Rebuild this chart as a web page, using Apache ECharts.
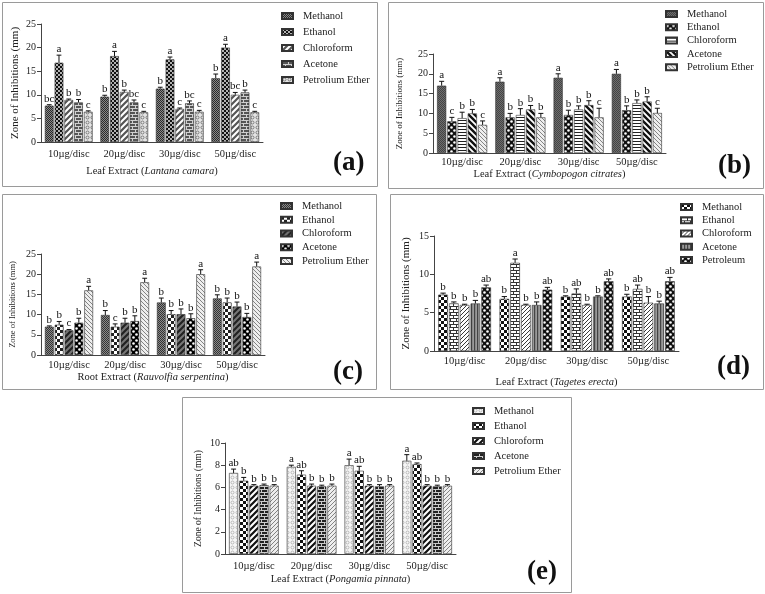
<!DOCTYPE html>
<html><head><meta charset="utf-8">
<script src="https://cdn.jsdelivr.net/npm/echarts@6/dist/echarts.min.js"></script>
<style>html,body{margin:0;padding:0;background:#fff}#c{width:765px;height:594px}</style>
</head><body><div id="c"></div>
<script>
// ---------- DATA ----------
const categories = ['10µg/disc', '20µg/disc', '30µg/disc', '50µg/disc'];
const solvents = ['Methanol', 'Ethanol', 'Chloroform', 'Acetone', 'Petrolium Ether'];
const solventsD = ['Methanol', 'Ethanol', 'Chloroform', 'Acetone', 'Petroleum'];
const yTitle = 'Zone of Inhibitions (mm)';
const xTitles = [
  ['Leaf Extract (', 'Lantana camara', ')'],
  ['Leaf Extract (', 'Cymbopogon citrates', ')'],
  ['Root Extract (', 'Rauvolfia serpentina', ')'],
  ['Leaf Extract (', 'Tagetes erecta', ')'],
  ['Leaf Extract (', 'Pongamia pinnata', ')']
];
const panelLabels = ['(a)', '(b)', '(c)', '(d)', '(e)'];

// rows: Methanol, Ethanol, Chloroform, Acetone, Petroleum ether ; columns: 10,20,30,50 µg/disc
const valuesA = [[7.7, 9.6, 11.3, 13.5], [16.8, 18.2, 17.5, 20.0], [8.9, 10.6, 7.0, 10.0], [8.4, 8.4, 8.2, 10.5], [6.4, 6.3, 6.4, 6.3]];
const errorsA = [[0.2, 0.3, 0.3, 0.9], [1.6, 1.0, 0.5, 0.7], [0.2, 0.4, 0.2, 0.5], [0.6, 0.5, 0.5, 0.5], [0.2, 0.2, 0.3, 0.2]];
const lettersA = [['bc', 'b', 'b', 'b'], ['a', 'a', 'a', 'a'], ['b', 'b', 'c', 'bc'], ['b', 'bc', 'bc', 'b'], ['c', 'c', 'c', 'c']];

const valuesB = [[17.0, 18.0, 19.0, 20.0], [8.0, 9.0, 9.6, 10.8], [8.8, 9.6, 11.0, 12.6], [10.0, 11.0, 12.1, 13.0], [7.1, 9.0, 9.0, 10.1]];
const errorsB = [[1.1, 1.0, 1.0, 1.1], [1.0, 1.0, 1.2, 1.1], [1.5, 1.6, 0.9, 0.8], [1.0, 1.0, 1.1, 1.2], [1.0, 1.0, 2.3, 1.2]];
const lettersB = [['a', 'a', 'a', 'a'], ['c', 'b', 'b', 'b'], ['b', 'b', 'b', 'b'], ['b', 'b', 'b', 'b'], ['c', 'b', 'c', 'c']];

const valuesC = [[7.0, 9.9, 13.0, 14.0], [7.5, 7.0, 10.1, 13.0], [6.1, 8.0, 10.1, 12.0], [8.0, 8.4, 9.1, 9.4], [16.0, 18.0, 20.0, 21.9]];
const errorsC = [[0.2, 1.1, 1.1, 0.9], [0.8, 0.7, 0.9, 1.1], [0.2, 1.1, 1.3, 1.1], [1.1, 1.3, 1.1, 0.9], [1.0, 1.0, 1.1, 1.1]];
const lettersC = [['b', 'b', 'b', 'b'], ['b', 'c', 'b', 'b'], ['c', 'b', 'b', 'b'], ['b', 'b', 'b', 'b'], ['a', 'a', 'a', 'a']];

const valuesD = [[7.35, 6.8, 7.1, 7.1], [6.2, 11.5, 7.5, 8.1], [6.0, 6.0, 6.0, 6.3], [6.2, 6.0, 7.1, 6.2], [8.3, 8.0, 9.1, 9.1]];
const errorsD = [[0.2, 0.3, 0.1, 0.3], [0.2, 0.5, 0.6, 0.5], [0.1, 0.1, 0.1, 0.8], [0.4, 0.4, 0.1, 0.3], [0.3, 0.3, 0.3, 0.5]];
const lettersD = [['b', 'b', 'b', 'b'], ['b', 'a', 'ab', 'ab'], ['b', 'b', 'b', 'b'], ['b', 'b', 'b', 'b'], ['ab', 'ab', 'ab', 'ab']];

const valuesE = [[7.3, 7.85, 8.0, 8.4], [6.6, 7.15, 7.5, 8.1], [6.15, 6.15, 6.15, 6.15], [6.2, 6.1, 6.1, 6.1], [6.15, 6.15, 6.15, 6.15]];
const errorsE = [[0.35, 0.15, 0.55, 0.55], [0.3, 0.35, 0.4, 0.1], [0.1, 0.15, 0.1, 0.1], [0.1, 0.1, 0.15, 0.1], [0.1, 0.15, 0.1, 0.1]];
const lettersE = [['ab', 'a', 'a', 'a'], ['b', 'ab', 'ab', 'ab'], ['b', 'b', 'b', 'b'], ['b', 'b', 'b', 'b'], ['b', 'b', 'b', 'b']];

const yMaxes = [25, 25, 25, 15, 10];
const yIntervals = [5, 5, 5, 5, 2];

// ---------- STYLE / LAYOUT ----------
const FONT = 'Liberation Serif';
function pattern(type, fg, bg) {
  const sizes = {fine: 2, checker: 6, dots: 4, bigdots: 6, diagUp: 6, diagDown: 6, diagUpThin: 4, diagDownThin: 4, hlines: 3, vlines: 3, brick: 6, rings: 5, solid: 2};
  const s = sizes[type];
  const cv = document.createElement('canvas'); cv.width = cv.height = s;
  const g = cv.getContext('2d');
  g.fillStyle = bg; g.fillRect(0, 0, s, s);
  g.fillStyle = fg; g.strokeStyle = fg;
  if (type === 'fine') { g.fillRect(0, 0, 1, 1); g.fillRect(1, 1, 1, 1); }
  else if (type === 'checker') { g.fillRect(0, 0, 3, 3); g.fillRect(3, 3, 3, 3); }
  else if (type === 'dots') { g.beginPath(); g.arc(1, 1, 0.9, 0, 7); g.fill(); g.beginPath(); g.arc(3, 3, 0.9, 0, 7); g.fill(); }
  else if (type === 'bigdots') { g.beginPath(); g.arc(1.5, 1.5, 1.3, 0, 7); g.fill(); g.beginPath(); g.arc(4.5, 4.5, 1.3, 0, 7); g.fill(); }
  else if (type === 'diagUp' || type === 'diagUpThin') {
    g.lineWidth = type === 'diagUp' ? 2.2 : 0.9; g.beginPath();
    g.moveTo(0, s); g.lineTo(s, 0); g.moveTo(-1, 1); g.lineTo(1, -1); g.moveTo(s - 1, s + 1); g.lineTo(s + 1, s - 1); g.stroke();
  }
  else if (type === 'diagDown' || type === 'diagDownThin') {
    g.lineWidth = type === 'diagDown' ? 2.4 : 0.9; g.beginPath();
    g.moveTo(0, 0); g.lineTo(s, s); g.moveTo(s - 1, -1); g.lineTo(s + 1, 1); g.moveTo(-1, s - 1); g.lineTo(1, s + 1); g.stroke();
  }
  else if (type === 'hlines') { g.fillRect(0, 0, s, 1); }
  else if (type === 'vlines') { g.fillRect(0, 0, 1.2, s); }
  else if (type === 'brick') { g.fillRect(0, 0, 6, 1); g.fillRect(0, 3, 6, 1); g.fillRect(0, 0, 1, 3); g.fillRect(3, 3, 1, 3); }
  else if (type === 'rings') { g.lineWidth = 0.8; g.beginPath(); g.arc(2.5, 2.5, 1.5, 0, 7); g.stroke(); }
  return {image: cv, repeat: 'repeat'};
}

const panelPatterns = [
  [['fine', '#2a2a2a', '#8a8a8a'], ['dots', '#ffffff', '#111111'], ['diagUp', '#555555', '#ffffff'], ['brick', '#d0d0d0', '#555555'], ['rings', '#666666', '#e4e4e4']],
  [['fine', '#444444', '#6e6e6e'], ['bigdots', '#ffffff', '#111111'], ['hlines', '#222222', '#ffffff'], ['diagDown', '#111111', '#ffffff'], ['diagDownThin', '#777777', '#eeeeee']],
  [['fine', '#333333', '#8a8a8a'], ['checker', '#222222', '#ffffff'], ['diagUp', '#222222', '#777777'], ['bigdots', '#ffffff', '#000000'], ['diagDownThin', '#777777', '#eeeeee']],
  [['checker', '#111111', '#ffffff'], ['brick', '#333333', '#ffffff'], ['diagUpThin', '#222222', '#ffffff'], ['vlines', '#444444', '#9a9a9a'], ['bigdots', '#ffffff', '#111111']],
  [['rings', '#aaaaaa', '#f6f6f6'], ['checker', '#111111', '#ffffff'], ['diagUp', '#111111', '#ffffff'], ['brick', '#cccccc', '#222222'], ['diagUpThin', '#777777', '#eeeeee']]
];

const panels = [
  {key: 'a', names: solvents, values: valuesA, errors: errorsA, letters: lettersA,
   box: [2, 2, 375, 184], grid: {left: 41, top: 24, width: 222, height: 118},
   legend: {left: 281, top: 10, gap: 4}, label: {left: 333, top: 148},
   yGap: 20, yFont: 11, xGap: 24, xFont: 10.5, xMargin: 7},
  {key: 'b', names: solvents, values: valuesB, errors: errorsB, letters: lettersB,
   box: [388, 2, 375, 186], grid: {left: 433, top: 54, width: 233, height: 99},
   legend: {left: 665, top: 8, gap: 1.3}, label: {left: 718, top: 151},
   yGap: 29, yFont: 9, xGap: 15, xFont: 10.5, xMargin: 4},
  {key: 'c', names: solvents, values: valuesC, errors: errorsC, letters: lettersC,
   box: [2, 194, 374, 195], grid: {left: 41, top: 254, width: 224, height: 101},
   legend: {left: 280, top: 200, gap: 1.75}, label: {left: 333, top: 357},
   yGap: 24, yFont: 8.5, xGap: 16, xFont: 10.5, xMargin: 5},
  {key: 'd', names: solventsD, values: valuesD, errors: errorsD, letters: lettersD,
   box: [390, 194, 373, 195], grid: {left: 434, top: 236, width: 245, height: 115},
   legend: {left: 680, top: 201, gap: 1.25}, label: {left: 717, top: 352},
   yGap: 22, yFont: 11, xGap: 26, xFont: 10.5, xMargin: 5},
  {key: 'e', names: solvents, values: valuesE, errors: errorsE, letters: lettersE,
   box: [182, 397, 389, 195], grid: {left: 225, top: 443, width: 231, height: 111},
   legend: {left: 472, top: 405, gap: 3}, label: {left: 527, top: 557},
   yGap: 22, yFont: 9.5, xGap: 20, xFont: 10.5, xMargin: 7}
];

const CAT_GAP = 0.14, BAR_GAP = 0.12;

const option = {
  animation: false,
  backgroundColor: '#fff',
  textStyle: {fontFamily: FONT},
  grid: [], xAxis: [], yAxis: [], legend: [], title: [], series: [], graphic: []
};

panels.forEach((p, pi) => {
  option.graphic.push({type: 'rect', shape: {x: p.box[0] + 0.5, y: p.box[1] + 0.5, width: p.box[2], height: p.box[3]},
    style: {fill: 'none', stroke: '#9a9a9a', lineWidth: 1}, silent: true, z: 0});
  option.grid.push(Object.assign({containLabel: false}, p.grid));
  const t = xTitles[pi];
  option.xAxis.push({
    type: 'category', gridIndex: pi, data: categories,
    name: '{n|' + t[0] + '}{i|' + t[1] + '}{n|' + t[2] + '}',
    nameLocation: 'middle', nameGap: p.xGap,
    nameTextStyle: {rich: {
      n: {fontFamily: FONT, fontSize: p.xFont, color: '#222'},
      i: {fontFamily: FONT, fontSize: p.xFont, color: '#222', fontStyle: 'italic'}
    }},
    axisLine: {lineStyle: {color: '#444', width: 1}},
    axisTick: {alignWithLabel: true, length: 4, lineStyle: {color: '#444'}},
    axisLabel: {fontFamily: FONT, fontSize: 10.5, color: '#222', margin: p.xMargin}
  });
  option.yAxis.push({
    type: 'value', gridIndex: pi, min: 0, max: yMaxes[pi], interval: yIntervals[pi],
    name: yTitle, nameLocation: 'middle', nameGap: p.yGap,
    nameTextStyle: {fontFamily: FONT, fontSize: p.yFont, color: '#222'},
    axisLine: {show: true, lineStyle: {color: '#444', width: 1}},
    axisTick: {show: true, length: 4, lineStyle: {color: '#444'}},
    axisLabel: {fontFamily: FONT, fontSize: 10, color: '#222', margin: 5},
    splitLine: {show: false}
  });
  const seriesNames = p.names.map(n => n + '|' + p.key);
  option.legend.push({
    data: seriesNames, orient: 'vertical', left: p.legend.left, top: p.legend.top,
    itemWidth: 11, itemHeight: 6, itemGap: p.legend.gap, icon: 'rect', selectedMode: false,
    padding: 0, formatter: n => n.split('|')[0],
    textStyle: {fontFamily: FONT, fontSize: 10.5, color: '#222', lineHeight: 12, padding: [0, 0, 0, 5]}
  });
  option.title.push({text: panelLabels[pi], left: p.label.left, top: p.label.top, padding: 0,
    textStyle: {fontFamily: FONT, fontWeight: 'bold', fontSize: 27, color: '#111', lineHeight: 30}});

  p.names.forEach((n, si) => {
    const pt = panelPatterns[pi][si];
    option.series.push({
      type: 'bar', name: seriesNames[si], xAxisIndex: pi, yAxisIndex: pi,
      data: p.values[si], barCategoryGap: (CAT_GAP * 100) + '%', barGap: (BAR_GAP * 100) + '%',
      itemStyle: {color: pattern(pt[0], pt[1], pt[2]), borderColor: '#333', borderWidth: 0.6},
      z: 2
    });
  });

  const errData = [], errLetters = [];
  for (let si = 0; si < 5; si++) {
    for (let ci = 0; ci < categories.length; ci++) {
      errData.push([ci, si, p.values[si][ci], p.errors[si][ci]]);
      errLetters.push(p.letters[si][ci]);
    }
  }
  option.series.push({
    type: 'custom', name: 'err' + p.key, xAxisIndex: pi, yAxisIndex: pi, z: 5, silent: true,
    encode: {x: 0, y: 2},
    data: errData,
    renderItem: (params, api) => {
      const ci = api.value(0), si = api.value(1), v = api.value(2), e = api.value(3);
      const band = api.size([1, 0])[0];
      const n = 5;
      const bw = band * (1 - CAT_GAP) / (n + (n - 1) * BAR_GAP);
      const total = n * bw + (n - 1) * bw * BAR_GAP;
      const c = api.coord([ci, 0]);
      const x = c[0] - total / 2 + si * bw * (1 + BAR_GAP) + bw / 2;
      const y0 = api.coord([ci, v])[1];
      const y1 = api.coord([ci, v + e])[1];
      const cap = bw * 0.55;
      return {type: 'group', children: [
        {type: 'line', shape: {x1: x, y1: y0, x2: x, y2: y1}, style: {stroke: '#111', lineWidth: 1}},
        {type: 'line', shape: {x1: x - cap / 2, y1: y1, x2: x + cap / 2, y2: y1}, style: {stroke: '#111', lineWidth: 1}},
        {type: 'text', x: x, y: y1 - 0.5, style: {text: errLetters[params.dataIndex], fontFamily: FONT, fontSize: 11,
          fill: '#111', align: 'center', verticalAlign: 'bottom'}}
      ]};
    }
  });
});

const chart = echarts.init(document.getElementById('c'), null, {renderer: 'canvas'});
chart.setOption(option);
</script></body></html>
